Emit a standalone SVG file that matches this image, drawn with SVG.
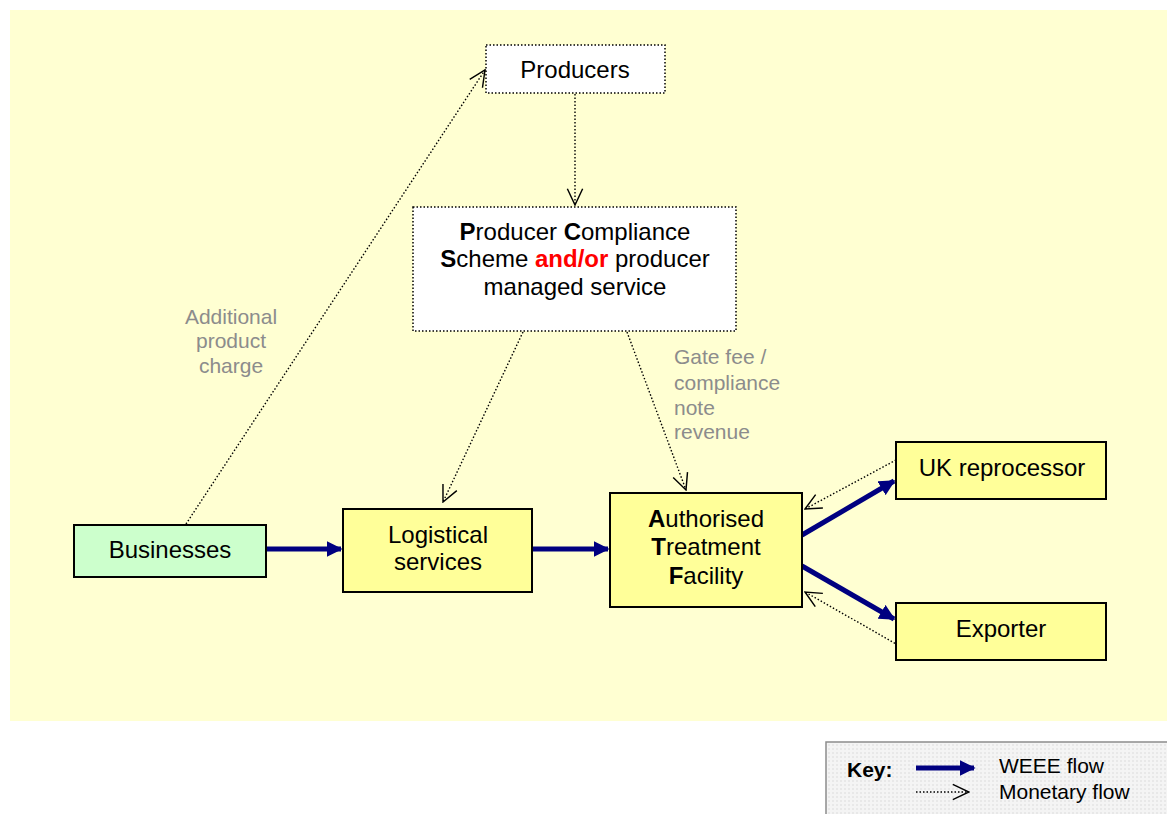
<svg xmlns="http://www.w3.org/2000/svg" width="1167" height="814" viewBox="0 0 1167 814">
  <defs>
    <style>
      .lbl { font-family: "Liberation Sans", Arial, sans-serif; font-size: 24px; fill: #000; text-anchor: middle; }
      .note { font-family: "Liberation Sans", Arial, sans-serif; font-size: 21px; fill: #8c8c8c; }
      .keytxt { font-family: "Liberation Sans", Arial, sans-serif; font-size: 21px; fill: #000; }
      .solid { stroke: #000; stroke-width: 2; }
      .dotbox { fill: #fff; stroke: #000; stroke-width: 1.5; stroke-dasharray: 1.5 2; }
      .weee { stroke: #000080; stroke-width: 5; fill: none; }
      .money { stroke: #000; stroke-width: 1.4; stroke-dasharray: 1.5 2; fill: none; }
    </style>
    <marker id="solidHead" viewBox="0 0 10 10" refX="9" refY="5" markerWidth="3.2" markerHeight="3.2" orient="auto" markerUnits="strokeWidth">
      <path d="M0,0 L10,5 L0,10 z" fill="#000080"/>
    </marker>
    <marker id="openHead" viewBox="0 0 20 20" refX="19" refY="10" markerWidth="18" markerHeight="18" orient="auto" markerUnits="userSpaceOnUse">
      <path d="M1,1.5 L19,10 L1,18.5" fill="none" stroke="#000" stroke-width="1.6"/>
    </marker>
    <pattern id="keyFill" width="4" height="4" patternUnits="userSpaceOnUse">
      <rect width="4" height="4" fill="#f4f4f4"/>
      <rect width="2" height="2" fill="#e8e8e8"/>
    </pattern>
  </defs>

  <!-- backdrop -->
  <rect x="10" y="10" width="1157" height="711" fill="#ffffd2"/>

  <!-- connectors -->
  <g id="connectors">
    <line class="weee" x1="266" y1="549" x2="341" y2="549" marker-end="url(#solidHead)"/>
    <line class="weee" x1="532" y1="549" x2="608" y2="549" marker-end="url(#solidHead)"/>
    <line class="weee" x1="802" y1="535" x2="894" y2="481" marker-end="url(#solidHead)"/>
    <line class="weee" x1="802" y1="566" x2="894" y2="619" marker-end="url(#solidHead)"/>

    <line class="money" x1="186" y1="524" x2="485" y2="70" marker-end="url(#openHead)"/>
    <line class="money" x1="575" y1="94" x2="575" y2="205" marker-end="url(#openHead)"/>
    <line class="money" x1="523" y1="332" x2="443" y2="502" marker-end="url(#openHead)"/>
    <line class="money" x1="627" y1="332" x2="686" y2="490" marker-end="url(#openHead)"/>
    <line class="money" x1="896" y1="460" x2="805" y2="509" marker-end="url(#openHead)"/>
    <line class="money" x1="898" y1="645" x2="805" y2="592" marker-end="url(#openHead)"/>
  </g>

  <!-- nodes -->
  <g id="producers">
    <rect class="dotbox" x="486" y="45" width="179" height="48"/>
    <text class="lbl" x="575" y="78">Producers</text>
  </g>

  <g id="pcs">
    <rect class="dotbox" x="413" y="207" width="323" height="124"/>
    <text class="lbl" x="575" y="240"><tspan font-weight="bold">P</tspan>roducer <tspan font-weight="bold">C</tspan>ompliance</text>
    <text class="lbl" x="575" y="267"><tspan font-weight="bold">S</tspan>cheme <tspan font-weight="bold" fill="#ff0000">and/or</tspan> producer</text>
    <text class="lbl" x="575" y="295">managed service</text>
  </g>

  <g id="businesses">
    <rect class="solid" x="74" y="525" width="192" height="52" fill="#ccffcc"/>
    <text class="lbl" x="170" y="558">Businesses</text>
  </g>

  <g id="logistical">
    <rect class="solid" x="343" y="509" width="189" height="83" fill="#ffff99"/>
    <text class="lbl" x="438" y="543">Logistical</text>
    <text class="lbl" x="438" y="570">services</text>
  </g>

  <g id="atf">
    <rect class="solid" x="610" y="493" width="192" height="114" fill="#ffff99"/>
    <text class="lbl" x="706" y="527"><tspan font-weight="bold">A</tspan>uthorised</text>
    <text class="lbl" x="706" y="555"><tspan font-weight="bold">T</tspan>reatment</text>
    <text class="lbl" x="706" y="584"><tspan font-weight="bold">F</tspan>acility</text>
  </g>

  <g id="uk-reprocessor">
    <rect class="solid" x="896" y="442" width="210" height="57" fill="#ffff99"/>
    <text class="lbl" x="1002" y="476">UK reprocessor</text>
  </g>

  <g id="exporter">
    <rect class="solid" x="896" y="603" width="210" height="57" fill="#ffff99"/>
    <text class="lbl" x="1001" y="637">Exporter</text>
  </g>

  <!-- flow annotations -->
  <g id="labels">
    <text class="note" text-anchor="middle" x="231" y="324">Additional</text>
    <text class="note" text-anchor="middle" x="231" y="348">product</text>
    <text class="note" text-anchor="middle" x="231" y="373">charge</text>
    <text class="note" x="674" y="364">Gate fee /</text>
    <text class="note" x="674" y="390">compliance</text>
    <text class="note" x="674" y="415">note</text>
    <text class="note" x="674" y="439">revenue</text>
  </g>

  <!-- key -->
  <g id="key">
    <rect x="826" y="742" width="345" height="76" fill="url(#keyFill)" stroke="#8c8c8c" stroke-width="1.5"/>
    <text class="keytxt" x="847" y="777" font-weight="bold">Key:</text>
    <line class="weee" x1="916" y1="768" x2="974" y2="768" marker-end="url(#solidHead)"/>
    <line class="money" x1="916" y1="792" x2="969" y2="792" marker-end="url(#openHead)"/>
    <text class="keytxt" x="999" y="773">WEEE flow</text>
    <text class="keytxt" x="999" y="799">Monetary flow</text>
  </g>
</svg>
